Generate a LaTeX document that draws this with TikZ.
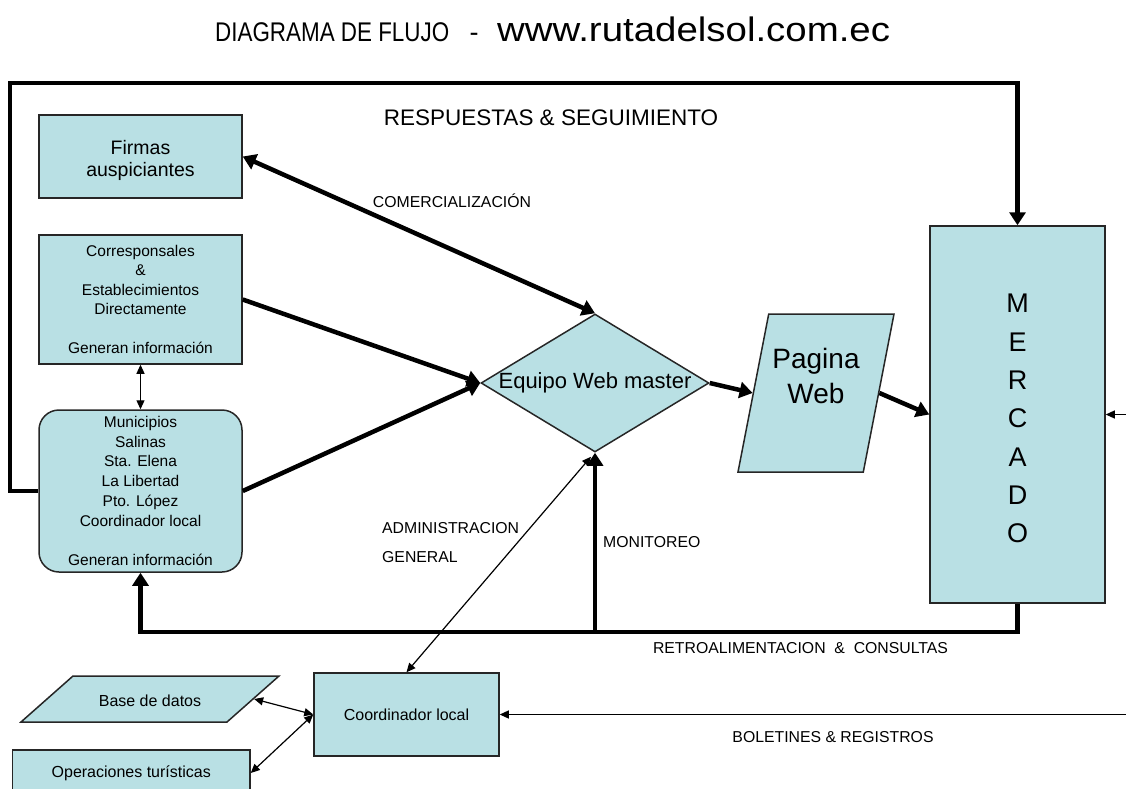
\documentclass[tikz,border=0pt]{standalone}
\usepackage{fontspec}
\setmainfont{Liberation Sans}
\usepackage{graphicx}
\usetikzlibrary{shapes.geometric,arrows.meta}
\definecolor{celeste}{RGB}{185,224,228}
\tikzset{
  caja/.style={draw=black!85, line width=1.5pt, fill=celeste, inner sep=0pt, align=center},
  flecha/.style={line width=4.5pt, -{Triangle[length=13pt,width=16pt]}},
  flechadoble/.style={line width=4.5pt, {Triangle[length=13pt,width=16pt]}-{Triangle[length=13pt,width=16pt]}},
  linea/.style={line width=1.2pt, -{Triangle[length=9pt,width=8pt]}},
  lineadoble/.style={line width=1.2pt, {Triangle[length=9pt,width=8pt]}-{Triangle[length=9pt,width=8pt]}},
  texto/.style={font=\fontsize{15.8}{19}\selectfont, inner sep=0pt},
}
\begin{document}
\begin{tikzpicture}[x=1pt,y=-1pt]
        \useasboundingbox (0,0) rectangle (1126,789);
        % titulo
        \node[anchor=base west, inner sep=0pt, font=\fontsize{27}{30}\selectfont] (titulo) at (215,42) {\scalebox{0.83}[1]{DIAGRAMA DE FLUJO}};
        \node[anchor=base, inner sep=0pt, font=\fontsize{27}{30}\selectfont] (guion) at (474,42) {-};
        \node[anchor=base west, inner sep=0pt, font=\fontsize{34}{38}\selectfont] (sitio) at (497,42) {\scalebox{1.13}[1]{www.rutadelsol.com.ec}};
        % cajas
        \node[caja, minimum width=203pt, text height=61pt, text depth=22pt, font=\fontsize{19.5}{22}\selectfont] (firmas) at (140.5,156.5) {Firmas\\auspiciantes};
        \node[caja, minimum width=203pt, minimum height=129pt, font=\fontsize{15.5}{19.5}\selectfont] (corresp) at (140.5,299.5) {Corresponsales\\\&\\Establecimientos\\Directamente\\[19.5pt]Generan información};
        \node[caja, rounded corners=20pt, minimum width=203pt, minimum height=162pt, font=\fontsize{15.5}{19.7}\selectfont] (muni) at (140.5,491) {Municipios\\Salinas\\Sta. Elena\\La Libertad\\Pto. López\\Coordinador local\\[19.7pt]Generan información};
        \node[caja, diamond, aspect=1.65, minimum width=228pt, minimum height=138pt, font=\fontsize{22}{24}\selectfont] (equipo) at (595,383) {Equipo Web master};
        \node[caja, trapezium, trapezium left angle=79, trapezium right angle=101, trapezium stretches body, text height=89pt, text depth=69pt, minimum width=156pt, font=\fontsize{28}{35}\selectfont] (pagina) at (816,393) {Pagina\\Web};
        \node[caja, minimum width=175pt, text height=316.7pt, text depth=60.3pt, font=\fontsize{27}{38.3}\selectfont] (mercado) at (1017.5,414.5) {M\\E\\R\\C\\A\\D\\O};
        \node[caja, minimum width=185pt, minimum height=83pt, font=\fontsize{16}{19}\selectfont] (coord) at (406.5,714.5) {Coordinador local};
        \node[caja, trapezium, trapezium left angle=41.5, trapezium right angle=138.5, trapezium stretches body, text height=30.7pt, text depth=15.3pt, minimum width=258pt, font=\fontsize{16}{19}\selectfont] (base) at (150,699) {Base de datos};
        \node[caja, minimum width=237.5pt, minimum height=46pt, font=\fontsize{16}{19}\selectfont] (oper) at (131.25,773) {Operaciones turísticas};
        % flujos gruesos
        \coordinate (esquina) at (10,83);
        \draw[flecha] (muni.west) -| (esquina) -| (mercado.north);
        \draw[flechadoble] (firmas.east) -- (equipo.north);
        \draw[flecha] (corresp.east) -- (equipo.west);
        \draw[flecha] (muni.east) -- (equipo.west);
        \draw[flecha] (equipo.east) -- (pagina.west);
        \draw[flecha] (pagina.east) -- (mercado.west);
        \coordinate (abajo) at (1017.5,632);
        \draw[flecha] (mercado.south) -- (abajo) -| (muni.south);
        \draw[flecha] (equipo.south |- abajo) -- (equipo.south);
        % flujos finos
        \draw[lineadoble] (corresp.south) -- (muni.north);
        \draw[lineadoble] (coord.north) -- ([xshift=-4pt, yshift=-4pt]equipo.south);
        \coordinate (borde1) at (1126,414.5);
        \draw[linea] (borde1) -- (mercado.east);
        \coordinate (borde2) at (1126,714.5);
        \draw[linea] (borde2) -- (coord.east);
        \draw[lineadoble] (base.east) -- (coord.west);
        \draw[lineadoble] (oper.east) -- (coord.west);
        % etiquetas
        \node[texto, font=\fontsize{22.5}{24}\selectfont, anchor=base] (respuestas) at (551,125) {RESPUESTAS \& SEGUIMIENTO};
        \node[texto, anchor=base] (comerc) at (452,207.7) {COMERCIALIZACIÓN};
        \node[texto, anchor=base west] (admin) at (382,533.7) {ADMINISTRACION};
        \node[texto, anchor=base west] (general) at (382,562.7) {GENERAL};
        \node[texto, anchor=base west] (monit) at (603,547.7) {MONITOREO};
        \node[texto, anchor=base] (retro) at (800.5,653.7) {RETROALIMENTACION\ \ \&\ \ CONSULTAS};
        \node[texto, anchor=base] (boletines) at (833,742) {BOLETINES \& REGISTROS};
    \end{tikzpicture}
\end{document}
